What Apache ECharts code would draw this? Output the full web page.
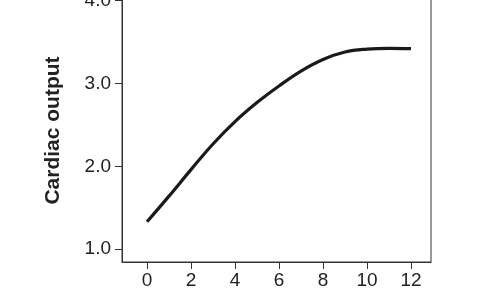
<!DOCTYPE html>
<html>
<head>
<meta charset="utf-8">
<script src="https://cdn.jsdelivr.net/npm/echarts@6/dist/echarts.min.js"></script>
<style>html,body{margin:0;padding:0;background:#fff}#c{width:480px;height:300px}</style>
</head>
<body>
<div id="c"></div>
<script>
var xValues = [0, 1, 2, 3, 4, 5, 6, 7, 8, 9, 10, 11, 12];
var cardiacOutput = [1.33, 1.64, 1.96, 2.27, 2.54, 2.77, 2.97, 3.15, 3.29, 3.38, 3.415, 3.425, 3.42];
var xTicks = [0, 2, 4, 6, 8, 10, 12];
var yTicks = [1, 2, 3, 4];
var yTitle = 'Cardiac output';
var xTitle = 'Total blood volume';

var chart = echarts.init(document.getElementById('c'), null, {renderer: 'canvas'});
var font = 'Liberation Sans, Arial, Helvetica, sans-serif';
chart.setOption({
  animation: false,
  grid: {left: 122, right: 49, top: -1, bottom: 38, outerBoundsMode: 'none', containLabel: false,
    show: true, borderColor: '#333', borderWidth: 1, backgroundColor: '#fff'},
  xAxis: {
    type: 'value', min: -1.136, max: 12.91,
    name: xTitle, nameLocation: 'middle', nameGap: 38,
    nameTextStyle: {fontFamily: font, fontWeight: 'bold', fontSize: 21, color: '#222'},
    axisLine: {show: true, onZero: false, lineStyle: {color: '#333', width: 1}},
    axisTick: {show: true, length: 7, lineStyle: {color: '#333'}, customValues: xTicks},
    axisLabel: {fontFamily: font, fontSize: 19, color: '#222', margin: 9, customValues: xTicks},
    splitLine: {show: false}
  },
  yAxis: {
    type: 'value', min: 0.845, max: 4.02,
    name: yTitle, nameLocation: 'middle', nameGap: 58,
    nameTextStyle: {fontFamily: font, fontWeight: 'bold', fontSize: 21, color: '#222'},
    axisLine: {show: true, onZero: false, lineStyle: {color: '#333', width: 1}},
    axisTick: {show: true, length: 7, lineStyle: {color: '#333'}, customValues: yTicks},
    axisLabel: {fontFamily: font, fontSize: 19, color: '#222', margin: 11, customValues: yTicks,
      formatter: function (v) { return v.toFixed(1); }},
    splitLine: {show: false}
  },
  series: [{
    type: 'line',
    data: xValues.map(function (x, i) { return [x, cardiacOutput[i]]; }),
    smooth: 0.4,
    showSymbol: false,
    lineStyle: {color: '#1a1a1a', width: 3.2}
  }]
});
</script>
</body>
</html>
